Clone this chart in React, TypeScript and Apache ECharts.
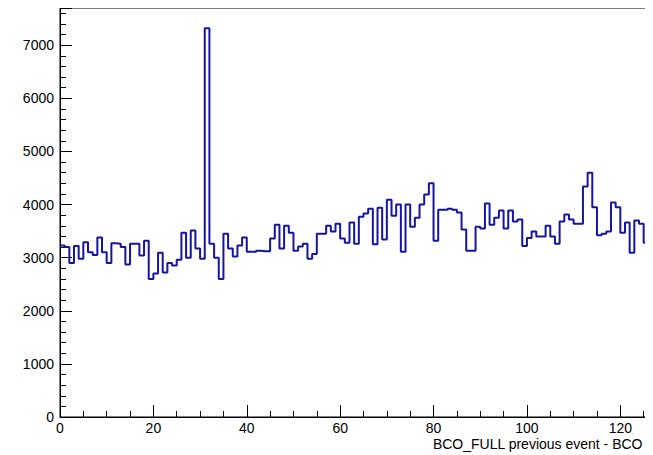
import { useEffect, useRef } from 'react';
import * as echarts from 'echarts';

// bin contents, one per unit bin starting at 0
const binsLow = [
  3230, 3200, 2900, 3220, 2980, 3290, 3100, 3050, 3380, 3100, 2900, 3270, 3260, 3200, 2870, 3260,
  3260, 3040, 3320, 2600, 2700, 3090, 2720, 2900, 2850, 2960, 3470, 3000, 3510, 3170, 2980, 7320,
  3260, 3000, 2600, 3450, 3170, 3020, 3230, 3380, 3110,
];
const binsMid = [
  3110, 3130, 3120, 3120, 3360, 3620, 3170, 3600, 3470, 3130, 3210, 3260, 2980, 3070, 3450, 3450,
  3600, 3490, 3640, 3360, 3280, 3660, 3260, 3770, 3830, 3920, 3250, 3940, 3340, 4090, 3790, 4000,
  3110, 4000, 3580, 3750, 4000, 4190, 4400, 3320, 3900, 3900,
];
const binsHigh = [
  3920, 3900, 3850, 3530, 3130, 3130, 3580, 3550, 4020, 3620, 3750, 3890, 3550, 3890, 3680,
  3720, 3220, 3370, 3490, 3400, 3400, 3600, 3400, 3260, 3680, 3810, 3720, 3640, 3640, 4340, 4600,
  3950, 3420, 3450, 3490, 4040, 3950, 3470, 3660, 3090, 3700, 3640, 3280, 3320,
];
const bins = [...binsLow, ...binsMid, ...binsHigh];
const xMax = bins.length;
const xTitle = 'BCO_FULL previous event - BCO';

const App = () => {
  const chartRef = useRef<HTMLDivElement>(null);

  useEffect(() => {
    if (!chartRef.current) return;
    const chart = echarts.init(chartRef.current, undefined, { renderer: 'svg' });

    const steps = bins.map((v, i) => [i, v]);
    steps.push([xMax, bins[bins.length - 1]]);

    const font = { fontFamily: 'Liberation Sans', fontSize: 14, color: '#000' };

    chart.setOption({
      animation: false,
      grid: {
        left: 52,
        right: 0,
        top: 0,
        bottom: 38,
        outerBoundsMode: 'none',
        show: true,
        borderColor: '#000',
        borderWidth: 1,
      },
      graphic: [
        {
          type: 'text',
          right: 10,
          top: 429,
          style: { text: xTitle, font: '14px "Liberation Sans"', fill: '#000' },
        },
      ],
      xAxis: {
        type: 'value',
        min: 0,
        max: xMax,
        interval: 20,
        axisLine: { lineStyle: { color: '#000', width: 1 } },
        axisTick: { inside: true, length: 12, lineStyle: { color: '#000' } },
        minorTick: { show: true, splitNumber: 4, length: 6, lineStyle: { color: '#000' } },
        axisLabel: { ...font, margin: 4, showMaxLabel: false },
        splitLine: { show: false },
      },
      yAxis: {
        type: 'value',
        min: 0,
        max: 7700,
        interval: 1000,
        axisLine: { show: true, lineStyle: { color: '#000', width: 1 } },
        axisTick: { show: true, inside: true, length: 12, lineStyle: { color: '#000' } },
        minorTick: { show: true, splitNumber: 5, length: 6, lineStyle: { color: '#000' } },
        axisLabel: {
          ...font,
          margin: 6,
          showMaxLabel: false,
          formatter: (v: number) => String(v),
        },
        splitLine: { show: false },
      },
      series: [
        {
          type: 'line',
          step: 'end',
          data: steps,
          showSymbol: false,
          lineStyle: { color: '#1515a0', width: 2 },
        },
      ],
    });

    return () => chart.dispose();
  }, []);

  return <div ref={chartRef} style={{ width: 645, height: 447 }} />;
};

export default App;
